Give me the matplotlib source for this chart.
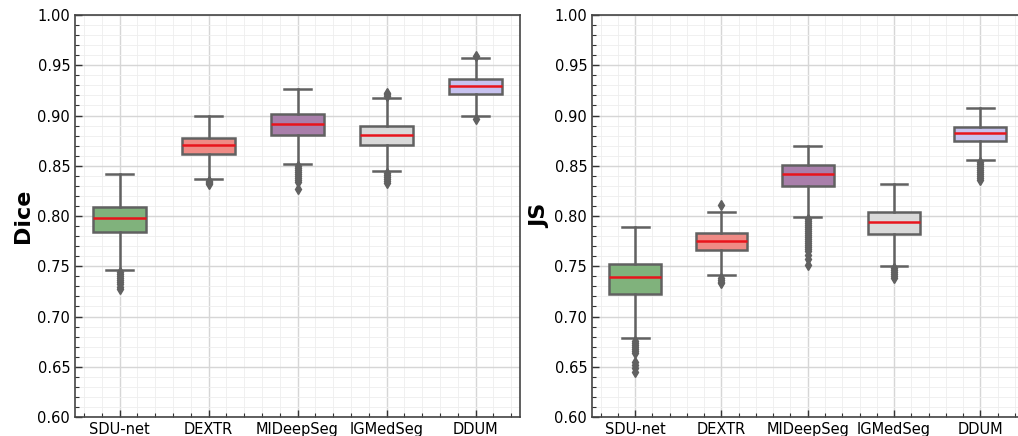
import matplotlib
matplotlib.use("Agg")
import matplotlib.pyplot as plt
from matplotlib.ticker import MultipleLocator

methods = ["SDU-net", "DEXTR", "MIDeepSeg", "IGMedSeg", "DDUM"]
box_colors = ["#80b27c", "#ef8a85", "#a97fab", "#d9d9d9", "#c7c2ef"]

# Dice statistics: whislo, q1, median, q3, whishi
dice_whislo = [0.746, 0.837, 0.852, 0.845, 0.900]
dice_q1 = [0.784, 0.862, 0.881, 0.871, 0.921]
dice_med = [0.798, 0.871, 0.892, 0.881, 0.929]
dice_q3 = [0.809, 0.878, 0.901, 0.890, 0.936]
dice_whishi = [0.842, 0.900, 0.926, 0.917, 0.957]
dice_fliers = [
    [0.744, 0.742, 0.740, 0.738, 0.736, 0.734, 0.732, 0.729, 0.727],
    [0.835, 0.834, 0.833, 0.832],
    [0.850, 0.848, 0.846, 0.844, 0.842, 0.840, 0.838, 0.836, 0.834, 0.827],
    [0.919, 0.921, 0.922, 0.843, 0.841, 0.839, 0.837, 0.835, 0.833],
    [0.959, 0.897],
]

# JS statistics
js_whislo = [0.679, 0.741, 0.799, 0.750, 0.856]
js_q1 = [0.722, 0.766, 0.8295, 0.782, 0.875]
js_med = [0.739, 0.775, 0.842, 0.794, 0.883]
js_q3 = [0.752, 0.783, 0.851, 0.804, 0.889]
js_whishi = [0.789, 0.804, 0.870, 0.8315, 0.9075]
js_fliers = [
    [0.676, 0.674, 0.672, 0.670, 0.668, 0.666, 0.664, 0.655, 0.652, 0.649, 0.645],
    [0.811, 0.738, 0.736, 0.734, 0.733],
    [0.797, 0.795, 0.793, 0.791, 0.789, 0.787, 0.785, 0.783, 0.781, 0.779,
     0.777, 0.775, 0.773, 0.771, 0.769, 0.767, 0.765, 0.761, 0.757, 0.751],
    [0.748, 0.746, 0.744, 0.742, 0.740, 0.738],
    [0.854, 0.852, 0.850, 0.848, 0.846, 0.844, 0.842, 0.840, 0.838, 0.836],
]

y_ticks = [0.60, 0.65, 0.70, 0.75, 0.80, 0.85, 0.90, 0.95, 1.00]

plt.rcParams["font.family"] = ["DejaVu Sans"]

fig = plt.figure(figsize=(10.18, 4.36), dpi=100)
ax1 = fig.add_axes([75 / 1018, 19 / 436, 445 / 1018, 402 / 436])
ax2 = fig.add_axes([592 / 1018, 19 / 436, 431.5 / 1018, 402 / 436])

edge = "#616161"


def draw(ax, wl, q1, med, q3, wh, fl, label):
    stats = []
    for i, m in enumerate(methods):
        stats.append(dict(label=m, whislo=wl[i], q1=q1[i], med=med[i],
                          q3=q3[i], whishi=wh[i], fliers=fl[i]))
    bp = ax.bxp(stats, positions=range(len(methods)), widths=0.6,
                patch_artist=True, showfliers=True,
                boxprops=dict(edgecolor=edge, linewidth=1.8),
                whiskerprops=dict(color=edge, linewidth=1.8),
                capprops=dict(color=edge, linewidth=1.8),
                medianprops=dict(color="#e8141c", linewidth=1.8),
                flierprops=dict(marker="d", markerfacecolor=edge,
                                markeredgecolor=edge, markersize=5.5))
    for patch, c in zip(bp["boxes"], box_colors):
        patch.set_facecolor(c)
    for cap in bp["caps"]:
        x = cap.get_xdata()
        mid = (x[0] + x[1]) / 2
        cap.set_xdata([mid - 0.155, mid + 0.155])
    ax.set_xlim(-0.5, 4.5)
    ax.set_ylim(0.6, 1.0)
    ax.set_yticks(y_ticks)
    ax.set_yticklabels([f"{v:.2f}" for v in y_ticks])
    ax.yaxis.set_minor_locator(MultipleLocator(0.01))
    ax.xaxis.set_minor_locator(MultipleLocator(0.2))
    ax.set_xticks(range(len(methods)))
    ax.set_xticklabels(methods)
    ax.tick_params(axis="both", which="both", direction="in", labelsize=10.5,
                   color="#333333")
    ax.tick_params(axis="both", which="major", length=5, width=1)
    ax.tick_params(axis="both", which="minor", length=3, width=0.8)
    ax.grid(True, which="major", color="#d6d6d6", linewidth=1.0)
    ax.grid(True, which="minor", color="#eeeeee", linewidth=0.6)
    ax.set_axisbelow(True)
    for s in ax.spines.values():
        s.set_color("#444444")
        s.set_linewidth(1.2)
    ax.set_ylabel(label, fontsize=16, fontweight="bold", labelpad=3)


draw(ax1, dice_whislo, dice_q1, dice_med, dice_q3, dice_whishi, dice_fliers, "Dice")
draw(ax2, js_whislo, js_q1, js_med, js_q3, js_whishi, js_fliers, "JS")

fig.savefig("out.png", dpi=100)
